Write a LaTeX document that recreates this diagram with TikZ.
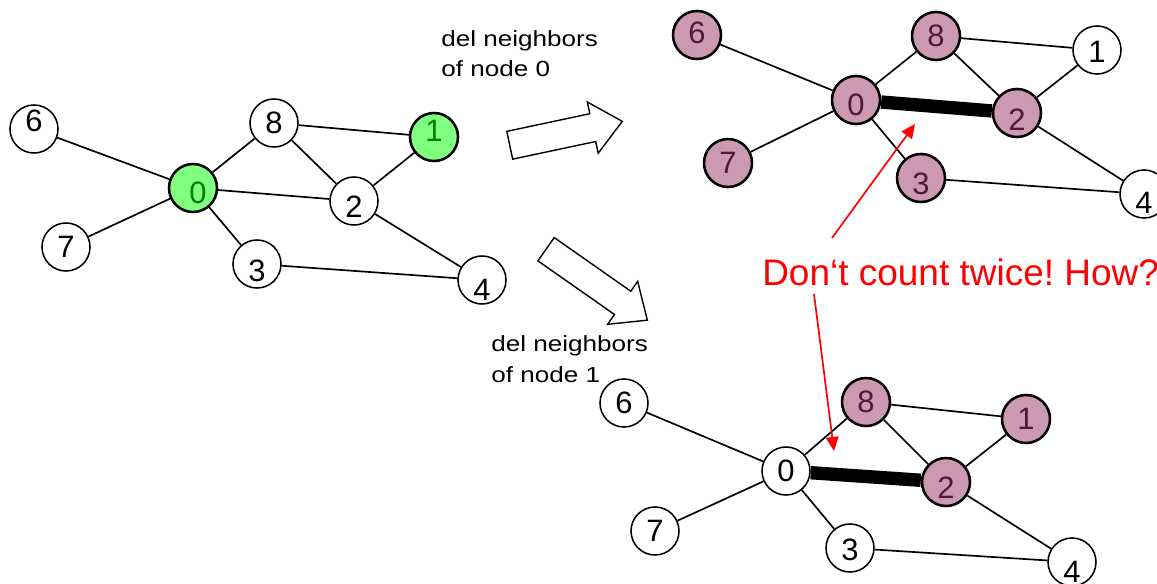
\documentclass[tikz,border=0pt]{standalone}
\usepackage{fontspec}
\setmainfont{Liberation Sans}
\newfontfamily\notefont[FakeStretch=1.19]{Liberation Sans}
\usetikzlibrary{arrows.meta,shapes.arrows,backgrounds}
\definecolor{mauve}{RGB}{204,153,179}
\definecolor{mauvetext}{RGB}{80,25,60}
\definecolor{leaf}{RGB}{128,255,128}
\definecolor{leaftext}{RGB}{0,128,0}
\frenchspacing

\begin{document}
\begin{tikzpicture}[
  x=0.025cm,y=-0.025cm,
  vtx/.style={circle,draw,line width=1.1pt,fill=white,minimum size=1.2cm,inner sep=0pt},
  hit/.style={vtx,fill=mauve,line width=1.8pt},
  seed/.style={vtx,fill=leaf,line width=1.8pt},
  num/.style={font=\fontsize{22}{24}\selectfont,inner sep=0pt},
  lab/.style 2 args={label={[num,yshift=#2]center:#1}},
  hlab/.style 2 args={label={[num,text=mauvetext,yshift=#2]center:#1}},
  glab/.style 2 args={label={[num,text=leaftext,yshift=#2]center:#1}},
  edge/.style={line width=1.2pt},
  heavy/.style={line width=9.5pt},
  bigarr/.style={single arrow,draw,line width=1pt,fill=white,inner xsep=0pt,inner ysep=0.3375cm,single arrow head extend=0.3cm,single arrow tip angle=82},
  note/.style={font=\notefont\fontsize{15.6}{22}\selectfont,align=left,inner sep=0pt},
  warn/.style={red,line width=1.2pt,-{Triangle[length=10pt,width=9pt]}}
]
\useasboundingbox (0,0) rectangle (1157,584);

% original graph
\node[vtx,lab={6}{5.7pt}] (a6) at (34,129) {};
\node[vtx,lab={8}{0pt}] (a8) at (274,123) {};
\node[seed,glab={1}{4.3pt}] (a1) at (434,137) {};
\node[seed,label={[num,text=leaftext,xshift=3.5pt,yshift=-3.5pt]center:0}] (a0) at (193,188) {};
\node[vtx,lab={2}{-4.3pt}] (a2) at (354,201) {};
\node[vtx,lab={7}{0pt}] (a7) at (66,247) {};
\node[vtx,lab={3}{-5pt}] (a3) at (257,264) {};
\node[vtx,lab={4}{-7pt}] (a4) at (482,280) {};

% neighbors of node 0 removed
\node[hit,hlab={6}{1.4pt}] (b6) at (697,35) {};
\node[hit,hlab={8}{0pt}] (b8) at (936,36) {};
\node[vtx,lab={1}{-1.4pt}] (b1) at (1097,50) {};
\node[hit,hlab={0}{-3.5pt}] (b0) at (856,100) {};
\node[hit,hlab={2}{-5pt}] (b2) at (1017,113) {};
\node[hit,hlab={7}{0pt}] (b7) at (728,163) {};
\node[hit,hlab={3}{-4.3pt}] (b3) at (921,178) {};
\node[vtx,lab={4}{-6.4pt}] (b4) at (1144,194) {};

% neighbors of node 1 removed
\node[vtx,lab={6}{0pt}] (c6) at (624,403) {};
\node[hit,hlab={8}{0pt}] (c8) at (866,402) {};
\node[hit,hlab={1}{0pt}] (c1) at (1026,419) {};
\node[vtx,lab={0}{0pt}] (c0) at (786,471) {};
\node[hit,hlab={2}{-4.3pt}] (c2) at (946,482) {};
\node[vtx,lab={7}{0pt}] (c7) at (655,531) {};
\node[vtx,lab={3}{-1.4pt}] (c3) at (850,548) {};
\node[vtx,lab={4}{-7pt}] (c4) at (1072,562) {};

\begin{scope}[on background layer]
\foreach \g in {a,b,c}
  \foreach \u/\v in {6/0,7/0,0/8,0/3,8/1,8/2,2/1,2/4,3/4}
    \draw[edge] (\g\u) -- (\g\v);
\draw[edge] (a0) -- (a2);
\draw[heavy] (b0) -- (b2);
\draw[heavy] (c0) -- (c2);
\end{scope}

% block arrows and notes
\node[bigarr,minimum height=2.875cm,rotate=12] (push0) at (558,135) {};
\node[bigarr,minimum height=3.09cm,rotate=-35] (push1) at (590,280) {};
\node[note,anchor=base west] (del0) at (441,77) {del neighbors\\of node 0};
\node[note,anchor=base west] (del1) at (491,382) {del neighbors\\of node 1};

% warning
\node[font=\fontsize{26.3}{30}\selectfont,text=red,anchor=base west,inner sep=0pt] (twice) at (762,285) {Don‘t count twice! How?};
\coordinate (w0) at (832,238);
\coordinate (t0) at (915,124);
\coordinate (w1) at (814,294);
\coordinate (t1) at (834,451);
\draw[warn] (w0) -- (t0);
\draw[warn] (w1) -- (t1);

\end{tikzpicture}
\end{document}
